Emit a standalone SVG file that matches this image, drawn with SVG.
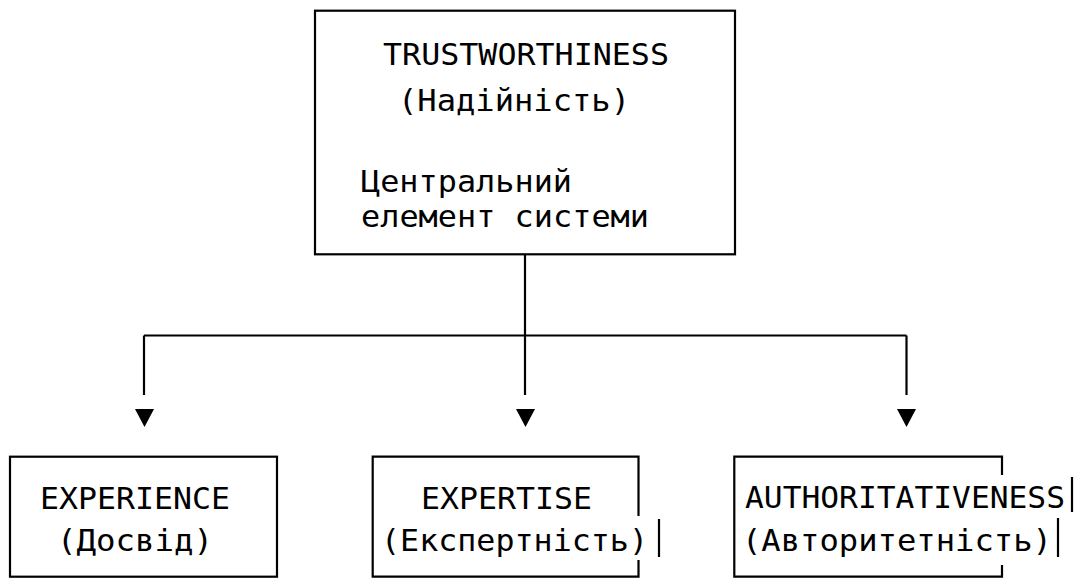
<svg xmlns="http://www.w3.org/2000/svg" width="1084" height="579" viewBox="0 0 1084 579">
<style>
.ln{fill:none;stroke:#000;stroke-width:2.2}
.t{font-family:"DejaVu Sans Mono","Liberation Mono",monospace;font-size:31px;fill:#000}
.ar{fill:#000}
</style>
<rect width="1084" height="579" fill="#fff"/>
<g id="trust">
<rect class="ln" x="315" y="10.7" width="420" height="243.6"/>
<text class="t" x="383" y="65" textLength="286" lengthAdjust="spacingAndGlyphs">TRUSTWORTHINESS</text>
<text class="t" x="398" y="111" textLength="232" lengthAdjust="spacingAndGlyphs">(Надійність)</text>
<text class="t" x="361" y="192" textLength="211" lengthAdjust="spacingAndGlyphs">Центральний</text>
<text class="t" x="361" y="227" textLength="288" lengthAdjust="spacingAndGlyphs">елемент системи</text>
</g>
<g id="connectors">
<path class="ln" d="M525 254.3V395M144 335.5H906.5M144 335.5V395M906.5 335.5V395"/>
<polygon class="ar" points="135,409 154,409 144.5,427"/>
<polygon class="ar" points="516,409 535,409 525.5,427"/>
<polygon class="ar" points="897,409 916,409 906.5,427"/>
</g>
<g id="experience">
<rect class="ln" x="10" y="456.7" width="267" height="120"/>
<text class="t" x="40" y="509" textLength="190" lengthAdjust="spacingAndGlyphs">EXPERIENCE</text>
<text class="t" x="57" y="551" textLength="156" lengthAdjust="spacingAndGlyphs">(Досвід)</text>
</g>
<g id="expertise">
<path class="ln" d="M638.5 516V456.7H372.7V576.7H638.5V560M659 519V557"/>
<text class="t" x="421" y="509" textLength="171" lengthAdjust="spacingAndGlyphs">EXPERTISE</text>
<text class="t" x="381" y="551" textLength="267" lengthAdjust="spacingAndGlyphs">(Експертність)</text>
</g>
<g id="authority">
<path class="ln" d="M1002 475V456.7H734.3V576.7H1002V565M1072 477V512M1058 518V557"/>
<text class="t" x="745" y="508" textLength="320" lengthAdjust="spacingAndGlyphs">AUTHORITATIVENESS</text>
<text class="t" x="742" y="551" textLength="310" lengthAdjust="spacingAndGlyphs">(Авторитетність)</text>
</g>
</svg>
